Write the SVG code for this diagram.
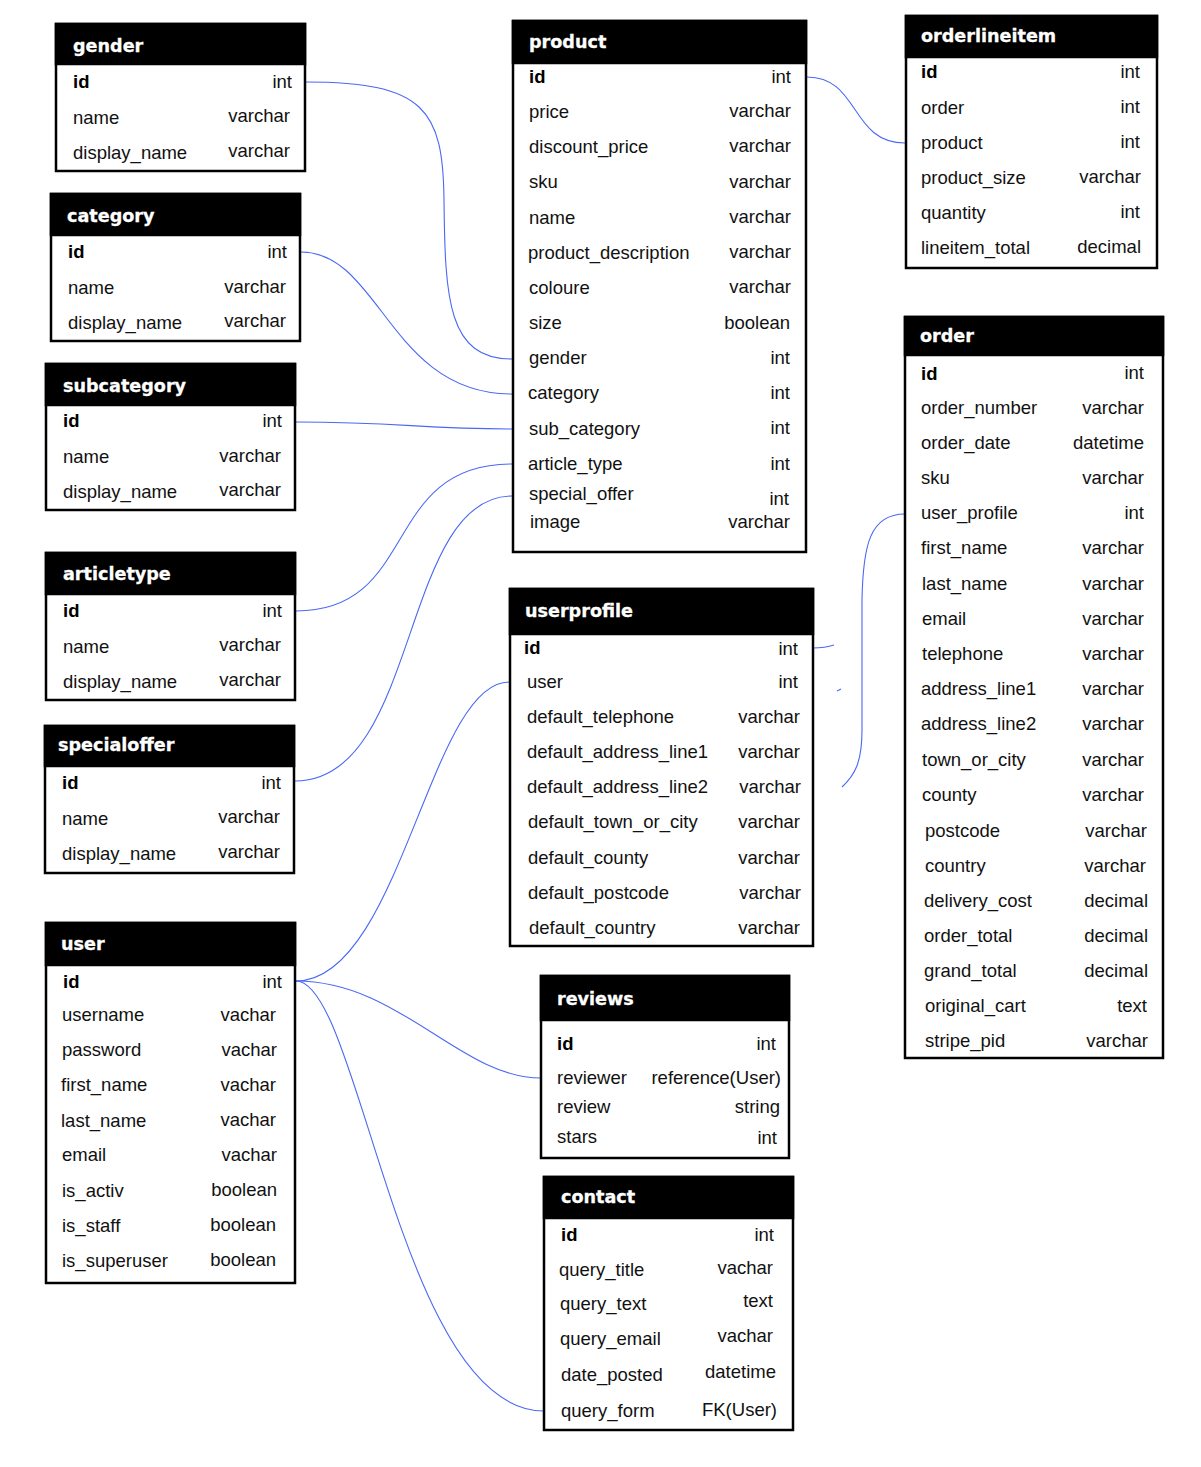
<svg xmlns="http://www.w3.org/2000/svg" width="1201" height="1467" viewBox="0 0 1201 1467">
<style>
.box{fill:#fff;stroke:#000;stroke-width:2.5}
.hd{fill:#000;stroke:#000;stroke-width:2.5}
.h{font-family:"DejaVu Sans",sans-serif;font-weight:bold;font-size:17.6px;fill:#fff;stroke:#fff;stroke-width:0.3}
.t{font-family:"Liberation Sans",Arial,sans-serif;font-size:18.5px;fill:#111}
.b{font-family:"Liberation Sans",Arial,sans-serif;font-size:18.5px;font-weight:bold;fill:#000}
.r{text-anchor:end}
.c{fill:none;stroke:#4a68f5;stroke-width:1.1}
</style>
<rect width="1201" height="1467" fill="#fff"/>
<g id="connectors">
<path class="c" d="M306,82 C425,82 443,110 444,200 C445,300 448,359 512,359"/>
<path class="c" d="M301,252 C380,252 390,394 512,394"/>
<path class="c" d="M296,422 C400,422 420,429 512,429"/>
<path class="c" d="M296,611 C420,611 380,464 512,464"/>
<path class="c" d="M295,781 C420,781 400,496 512,496"/>
<path class="c" d="M296,981 C400,981 430,682 509,682"/>
<path class="c" d="M296,981 C400,981 460,1078 541,1078"/>
<path class="c" d="M296,981 C360,981 400,1411 544,1411"/>
<path class="c" d="M807,77 C860,77 850,143 905,143"/>
<path class="c" d="M813,648 C822,648 828,647 834,645"/>
<path class="c" d="M837,691 L841,689"/>
<path class="c" d="M905,514 C870,514 863,545 862,600 L862,730 C862,762 855,775 842,787"/>
</g>
<g id="gender">
<rect class="box" x="56" y="24" width="249" height="147"/>
<rect class="hd" x="56" y="24" width="249" height="40"/>
<text class="h" x="73" y="52">gender</text>
<text class="b" x="73" y="88">id</text><text class="t r" x="292" y="88">int</text>
<text class="t" x="73" y="124">name</text><text class="t r" x="290" y="122">varchar</text>
<text class="t" x="73" y="159">display_name</text><text class="t r" x="290" y="157">varchar</text>
</g>
<g id="category">
<rect class="box" x="51" y="194" width="249" height="147"/>
<rect class="hd" x="51" y="194" width="249" height="41"/>
<text class="h" x="67" y="222">category</text>
<text class="b" x="68" y="258">id</text><text class="t r" x="287" y="258">int</text>
<text class="t" x="68" y="294">name</text><text class="t r" x="286" y="293">varchar</text>
<text class="t" x="68" y="329">display_name</text><text class="t r" x="286" y="327">varchar</text>
</g>
<g id="subcategory">
<rect class="box" x="46" y="364" width="249" height="146"/>
<rect class="hd" x="46" y="364" width="249" height="41"/>
<text class="h" x="63" y="392">subcategory</text>
<text class="b" x="63" y="427">id</text><text class="t r" x="282" y="427">int</text>
<text class="t" x="63" y="463">name</text><text class="t r" x="281" y="462">varchar</text>
<text class="t" x="63" y="498">display_name</text><text class="t r" x="281" y="496">varchar</text>
</g>
<g id="articletype">
<rect class="box" x="46" y="553" width="249" height="147"/>
<rect class="hd" x="46" y="553" width="249" height="41"/>
<text class="h" x="63" y="580">articletype</text>
<text class="b" x="63" y="617">id</text><text class="t r" x="282" y="617">int</text>
<text class="t" x="63" y="653">name</text><text class="t r" x="281" y="651">varchar</text>
<text class="t" x="63" y="688">display_name</text><text class="t r" x="281" y="686">varchar</text>
</g>
<g id="specialoffer">
<rect class="box" x="45" y="726" width="249" height="147"/>
<rect class="hd" x="45" y="726" width="249" height="40"/>
<text class="h" x="58" y="751">specialoffer</text>
<text class="b" x="62" y="789">id</text><text class="t r" x="281" y="789">int</text>
<text class="t" x="62" y="825">name</text><text class="t r" x="280" y="823">varchar</text>
<text class="t" x="62" y="860">display_name</text><text class="t r" x="280" y="858">varchar</text>
</g>
<g id="user">
<rect class="box" x="46" y="923" width="249" height="360"/>
<rect class="hd" x="46" y="923" width="249" height="42"/>
<text class="h" x="61" y="950">user</text>
<text class="b" x="63" y="988">id</text><text class="t r" x="282" y="988">int</text>
<text class="t" x="62" y="1021">username</text><text class="t r" x="276" y="1021">vachar</text>
<text class="t" x="62" y="1056">password</text><text class="t r" x="277" y="1056">vachar</text>
<text class="t" x="61" y="1091">first_name</text><text class="t r" x="276" y="1091">vachar</text>
<text class="t" x="61" y="1127">last_name</text><text class="t r" x="276" y="1126">vachar</text>
<text class="t" x="62" y="1161">email</text><text class="t r" x="277" y="1161">vachar</text>
<text class="t" x="62" y="1197">is_activ</text><text class="t r" x="277" y="1196">boolean</text>
<text class="t" x="62" y="1232">is_staff</text><text class="t r" x="276" y="1231">boolean</text>
<text class="t" x="62" y="1267">is_superuser</text><text class="t r" x="276" y="1266">boolean</text>
</g>
<g id="product">
<rect class="box" x="513" y="21" width="293" height="531"/>
<rect class="hd" x="513" y="21" width="293" height="42"/>
<text class="h" x="529" y="48">product</text>
<text class="b" x="529" y="83">id</text><text class="t r" x="791" y="83">int</text>
<text class="t" x="529" y="118">price</text><text class="t r" x="791" y="117">varchar</text>
<text class="t" x="529" y="153">discount_price</text><text class="t r" x="791" y="152">varchar</text>
<text class="t" x="529" y="188">sku</text><text class="t r" x="791" y="188">varchar</text>
<text class="t" x="529" y="224">name</text><text class="t r" x="791" y="223">varchar</text>
<text class="t" x="528" y="259">product_description</text><text class="t r" x="791" y="258">varchar</text>
<text class="t" x="529" y="294">coloure</text><text class="t r" x="791" y="293">varchar</text>
<text class="t" x="529" y="329">size</text><text class="t r" x="790" y="329">boolean</text>
<text class="t" x="529" y="364">gender</text><text class="t r" x="790" y="364">int</text>
<text class="t" x="528" y="399">category</text><text class="t r" x="790" y="399">int</text>
<text class="t" x="529" y="435">sub_category</text><text class="t r" x="790" y="434">int</text>
<text class="t" x="528" y="470">article_type</text><text class="t r" x="790" y="470">int</text>
<text class="t" x="529" y="500">special_offer</text><text class="t r" x="789" y="505">int</text>
<text class="t" x="530" y="528">image</text><text class="t r" x="790" y="528">varchar</text>
</g>
<g id="userprofile">
<rect class="box" x="510" y="589" width="303" height="357"/>
<rect class="hd" x="510" y="589" width="303" height="45"/>
<text class="h" x="525" y="617">userprofile</text>
<text class="b" x="524" y="654">id</text><text class="t r" x="798" y="655">int</text>
<text class="t" x="527" y="688">user</text><text class="t r" x="798" y="688">int</text>
<text class="t" x="527" y="723">default_telephone</text><text class="t r" x="800" y="723">varchar</text>
<text class="t" x="527" y="758">default_address_line1</text><text class="t r" x="800" y="758">varchar</text>
<text class="t" x="527" y="793">default_address_line2</text><text class="t r" x="801" y="793">varchar</text>
<text class="t" x="528" y="828">default_town_or_city</text><text class="t r" x="800" y="828">varchar</text>
<text class="t" x="528" y="864">default_county</text><text class="t r" x="800" y="864">varchar</text>
<text class="t" x="528" y="899">default_postcode</text><text class="t r" x="801" y="899">varchar</text>
<text class="t" x="529" y="934">default_country</text><text class="t r" x="800" y="934">varchar</text>
</g>
<g id="reviews">
<rect class="box" x="541" y="976" width="248" height="182"/>
<rect class="hd" x="541" y="976" width="248" height="44"/>
<text class="h" x="557" y="1005">reviews</text>
<text class="b" x="557" y="1050">id</text><text class="t r" x="776" y="1050">int</text>
<text class="t" x="557" y="1084">reviewer</text><text class="t r" x="781" y="1084">reference(User)</text>
<text class="t" x="557" y="1113">review</text><text class="t r" x="780" y="1113">string</text>
<text class="t" x="557" y="1143">stars</text><text class="t r" x="777" y="1144">int</text>
</g>
<g id="contact">
<rect class="box" x="544" y="1177" width="249" height="253"/>
<rect class="hd" x="544" y="1177" width="249" height="41"/>
<text class="h" x="561" y="1203">contact</text>
<text class="b" x="561" y="1241">id</text><text class="t r" x="774" y="1241">int</text>
<text class="t" x="559" y="1276">query_title</text><text class="t r" x="773" y="1274">vachar</text>
<text class="t" x="560" y="1310">query_text</text><text class="t r" x="773" y="1307">text</text>
<text class="t" x="560" y="1345">query_email</text><text class="t r" x="773" y="1342">vachar</text>
<text class="t" x="561" y="1381">date_posted</text><text class="t r" x="776" y="1378">datetime</text>
<text class="t" x="561" y="1417">query_form</text><text class="t r" x="777" y="1416">FK(User)</text>
</g>
<g id="orderlineitem">
<rect class="box" x="906" y="16" width="251" height="252"/>
<rect class="hd" x="906" y="16" width="251" height="41"/>
<text class="h" x="921" y="42">orderlineitem</text>
<text class="b" x="921" y="78">id</text><text class="t r" x="1140" y="78">int</text>
<text class="t" x="921" y="114">order</text><text class="t r" x="1140" y="113">int</text>
<text class="t" x="921" y="149">product</text><text class="t r" x="1140" y="148">int</text>
<text class="t" x="921" y="184">product_size</text><text class="t r" x="1141" y="183">varchar</text>
<text class="t" x="921" y="219">quantity</text><text class="t r" x="1140" y="218">int</text>
<text class="t" x="921" y="254">lineitem_total</text><text class="t r" x="1141" y="253">decimal</text>
</g>
<g id="order">
<rect class="box" x="905" y="317" width="258" height="741"/>
<rect class="hd" x="905" y="317" width="258" height="38"/>
<text class="h" x="920" y="342">order</text>
<text class="b" x="921" y="380">id</text><text class="t r" x="1144" y="379">int</text>
<text class="t" x="921" y="414">order_number</text><text class="t r" x="1144" y="414">varchar</text>
<text class="t" x="921" y="449">order_date</text><text class="t r" x="1144" y="449">datetime</text>
<text class="t" x="921" y="484">sku</text><text class="t r" x="1144" y="484">varchar</text>
<text class="t" x="921" y="519">user_profile</text><text class="t r" x="1144" y="519">int</text>
<text class="t" x="921" y="554">first_name</text><text class="t r" x="1144" y="554">varchar</text>
<text class="t" x="922" y="590">last_name</text><text class="t r" x="1144" y="590">varchar</text>
<text class="t" x="922" y="625">email</text><text class="t r" x="1144" y="625">varchar</text>
<text class="t" x="922" y="660">telephone</text><text class="t r" x="1144" y="660">varchar</text>
<text class="t" x="921" y="695">address_line1</text><text class="t r" x="1144" y="695">varchar</text>
<text class="t" x="921" y="730">address_line2</text><text class="t r" x="1144" y="730">varchar</text>
<text class="t" x="922" y="766">town_or_city</text><text class="t r" x="1144" y="766">varchar</text>
<text class="t" x="922" y="801">county</text><text class="t r" x="1144" y="801">varchar</text>
<text class="t" x="925" y="837">postcode</text><text class="t r" x="1147" y="837">varchar</text>
<text class="t" x="925" y="872">country</text><text class="t r" x="1146" y="872">varchar</text>
<text class="t" x="924" y="907">delivery_cost</text><text class="t r" x="1148" y="907">decimal</text>
<text class="t" x="924" y="942">order_total</text><text class="t r" x="1148" y="942">decimal</text>
<text class="t" x="924" y="977">grand_total</text><text class="t r" x="1148" y="977">decimal</text>
<text class="t" x="925" y="1012">original_cart</text><text class="t r" x="1147" y="1012">text</text>
<text class="t" x="925" y="1047">stripe_pid</text><text class="t r" x="1148" y="1047">varchar</text>
</g>
</svg>
